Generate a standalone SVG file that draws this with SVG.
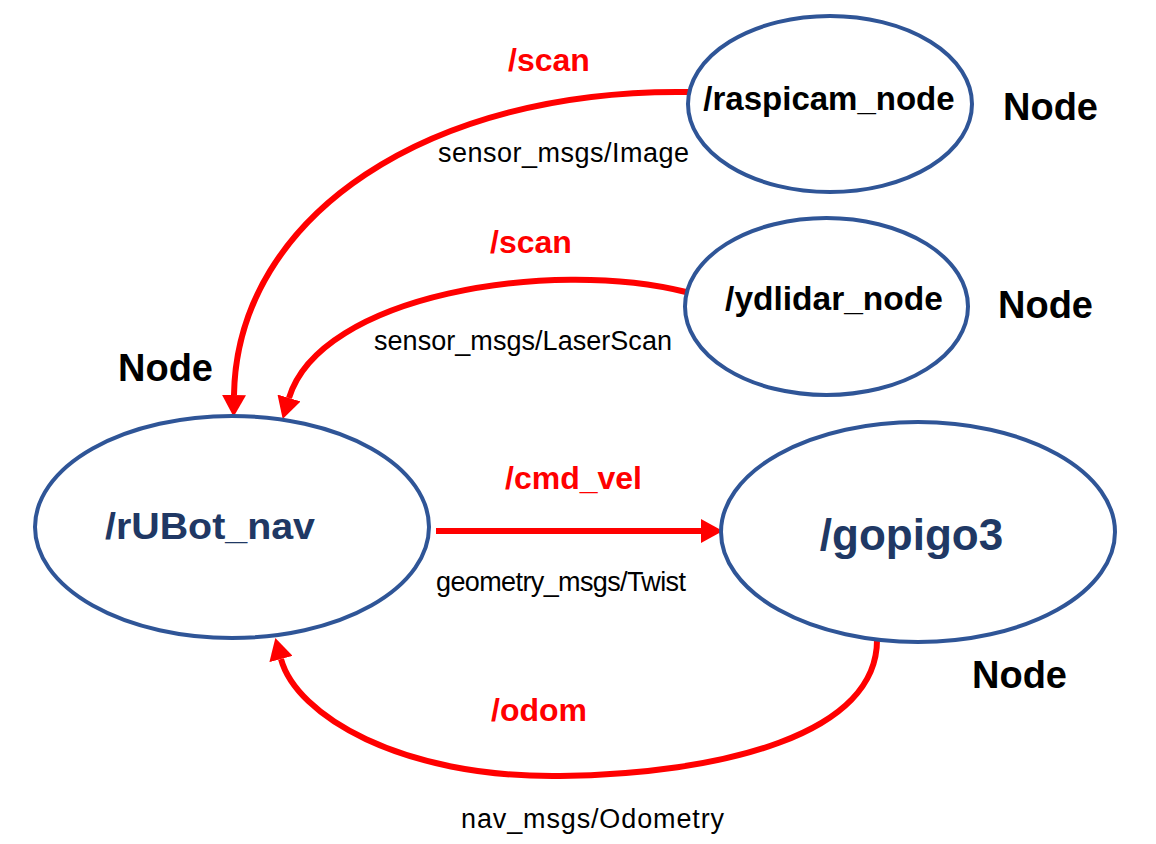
<svg xmlns="http://www.w3.org/2000/svg" width="1156" height="844" viewBox="0 0 1156 844">
  <style>
    .node { fill: #ffffff; stroke: #2F5597; stroke-width: 4; }
    .lbl { font-family: "Liberation Sans", Arial, sans-serif; font-weight: bold; }
    .nm-black { fill: #000000; }
    .nm-navy { fill: #203864; }
    .topic { font-family: "Liberation Sans", Arial, sans-serif; font-weight: bold; fill: #FF0000; font-size: 32px; }
    .msg { font-family: "Liberation Sans", Arial, sans-serif; fill: #000000; font-size: 27px; }
    .tag { font-family: "Liberation Sans", Arial, sans-serif; font-weight: bold; fill: #000000; font-size: 38px; }
    .edge { fill: none; stroke: #FF0000; stroke-width: 6; }
  </style>
  <defs>
    <marker id="arrow" markerUnits="userSpaceOnUse" markerWidth="22" markerHeight="24" viewBox="0 0 20 22" refX="0" refY="11" orient="auto">
      <path d="M0,0 L20,11 L0,22 Z" fill="#FF0000"/>
    </marker>
  </defs>
  <rect width="1156" height="844" fill="#ffffff"/>

  <g id="connectors">
    <path class="edge" d="M689,92 C430,88 237,215 234,395" marker-end="url(#arrow)"/>
    <path class="edge" d="M686,292 C550,258 320,295 289,398" marker-end="url(#arrow)"/>
    <path class="edge" d="M436,531 L701,531" marker-end="url(#arrow)"/>
    <path class="edge" d="M877,637 C880,735 720,774 560,776 C400,778 296,715 281,659" marker-end="url(#arrow)"/>
  </g>

  <g id="raspicam_node">
    <ellipse class="node" cx="830" cy="104" rx="142" ry="88"/>
    <text class="lbl nm-black" x="829" y="110" font-size="33" text-anchor="middle">/raspicam_node</text>
    <text class="tag" x="1003" y="120">Node</text>
  </g>

  <g id="ydlidar_node">
    <ellipse class="node" cx="826.5" cy="306.5" rx="141.5" ry="88.5"/>
    <text class="lbl nm-black" x="834" y="310" font-size="33.5" text-anchor="middle">/ydlidar_node</text>
    <text class="tag" x="998" y="318">Node</text>
  </g>

  <g id="rUBot_nav">
    <ellipse class="node" cx="232" cy="527" rx="197" ry="111"/>
    <text class="lbl nm-navy" x="105" y="539" font-size="36" textLength="210" lengthAdjust="spacingAndGlyphs">/rUBot_nav</text>
    <text class="tag" x="118" y="381">Node</text>
  </g>

  <g id="gopigo3">
    <ellipse class="node" cx="918" cy="532" rx="197" ry="110"/>
    <text class="lbl nm-navy" x="911.5" y="550" font-size="44" text-anchor="middle">/gopigo3</text>
    <text class="tag" x="972" y="688">Node</text>
  </g>

  <g id="labels">
    <text class="topic" x="508" y="71">/scan</text>
    <text class="msg" x="438" y="162" textLength="251">sensor_msgs/Image</text>
    <text class="topic" x="490" y="253">/scan</text>
    <text class="msg" x="374" y="350" textLength="298">sensor_msgs/LaserScan</text>
    <text class="topic" x="505" y="489" font-size="33.5">/cmd_vel</text>
    <text class="msg" x="436" y="591" font-size="26" textLength="250">geometry_msgs/Twist</text>
    <text class="topic" x="491" y="721" font-size="34">/odom</text>
    <text class="msg" x="461" y="828" font-size="28" textLength="263">nav_msgs/Odometry</text>
  </g>
</svg>
